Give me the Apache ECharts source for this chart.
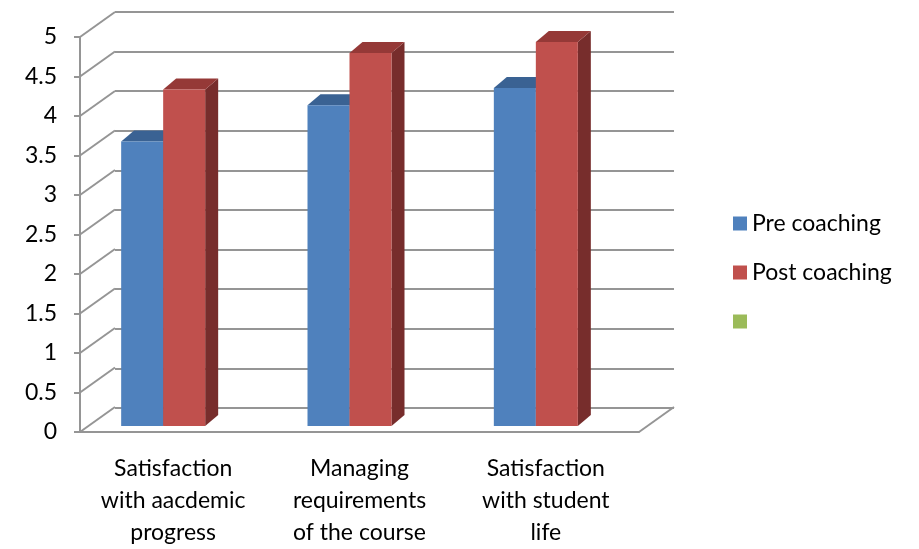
<!DOCTYPE html>
<html>
<head>
<meta charset="utf-8">
<script src="https://cdn.jsdelivr.net/npm/echarts@6/dist/echarts.min.js"></script>
<style>
  html, body { margin: 0; padding: 0; background: #fff; }
  #chart { width: 919px; height: 549px; }
</style>
</head>
<body>
<div id="chart"></div>
<script>
const categories = [
  'Satisfaction\nwith aacdemic\nprogress',
  'Managing\nrequirements\nof the course',
  'Satisfaction\nwith student\nlife'
];
const preCoaching = [3.6, 4.06, 4.28];
const postCoaching = [4.26, 4.72, 4.86];
const yTicks = [0, 0.5, 1, 1.5, 2, 2.5, 3, 3.5, 4, 4.5, 5];

const FONT = 'Lato';
const LINE = '#959595';
const WALL = [35, -25];   // back wall offset
const DEPTH = [13, -11];  // bar depth
const BAR_W = 42;
const PAIR_SHIFT = -10;
const BASE_LIFT = -6;

function barRenderer(isLeft, face, top, side) {
  return function (params, api) {
    const b = api.coord([api.value(0), 0]);
    const t = api.coord([api.value(0), api.value(1)]);
    const x0 = b[0] + PAIR_SHIFT - (isLeft ? BAR_W : 0);
    const x1 = x0 + BAR_W;
    const yb = b[1] + BASE_LIFT;
    const yt = t[1] + BASE_LIFT;
    const dx = DEPTH[0], dy = DEPTH[1];
    return {
      type: 'group',
      children: [
        { type: 'polygon', shape: { points: [[x1, yt], [x1 + dx, yt + dy], [x1 + dx, yb + dy], [x1, yb]] }, style: { fill: side } },
        { type: 'polygon', shape: { points: [[x0, yt], [x1, yt], [x1 + dx, yt + dy], [x0 + dx, yt + dy]] }, style: { fill: top } },
        { type: 'rect', shape: { x: x0, y: yt, width: BAR_W, height: yb - yt }, style: { fill: face } }
      ]
    };
  };
}

function wallRenderer(params, api) {
  const cs = params.coordSys;
  const y = api.coord([0, api.value(1)])[1];
  const lines = [
    { type: 'line', shape: { x1: cs.x, y1: y, x2: cs.x + WALL[0], y2: y + WALL[1] }, style: { stroke: LINE, lineWidth: 2 } }
  ];
  if (api.value(1) === 0) {
    const xr = cs.x + cs.width;
    lines.push({ type: 'line', shape: { x1: xr, y1: y, x2: xr + WALL[0], y2: y + WALL[1] }, style: { stroke: LINE, lineWidth: 2 } });
  }
  return { type: 'group', children: lines };
}

const chart = echarts.init(document.getElementById('chart'));
const option = {
  backgroundColor: '#ffffff',
  animation: false,
  textStyle: { fontFamily: FONT },
  legend: {
    data: ['Pre coaching', 'Post coaching', ' '],
    orient: 'vertical', left: 728, top: 207,
    icon: 'rect', itemWidth: 14, itemHeight: 14, itemGap: 26,
    selectedMode: false,
    textStyle: { fontFamily: FONT, fontSize: 23, color: '#000', lineHeight: 22 }
  },
  grid: [
    { left: 80, right: 280, top: 37, bottom: 116 },
    { left: 115, right: 245, top: 12, bottom: 141 }
  ],
  xAxis: [
    {
      type: 'category', gridIndex: 0, data: categories,
      axisLine: { lineStyle: { color: LINE, width: 2 } },
      axisTick: { length: 7, lineStyle: { color: LINE, width: 2 } },
      axisLabel: { interval: 0, margin: 21, fontFamily: FONT, fontSize: 23, lineHeight: 32, color: '#000' }
    },
    { type: 'category', gridIndex: 1, data: categories, show: false }
  ],
  yAxis: [
    {
      type: 'value', gridIndex: 0, min: 0, max: 5, interval: 0.5,
      axisLine: { show: true, lineStyle: { color: LINE, width: 2 } },
      axisTick: { show: true, length: 6, lineStyle: { color: LINE, width: 2 } },
      axisLabel: { margin: 23, fontFamily: FONT, fontSize: 23, color: '#000' },
      splitLine: { show: false }
    },
    {
      type: 'value', gridIndex: 1, min: 0, max: 5, interval: 0.5,
      axisLine: { show: false }, axisTick: { show: false }, axisLabel: { show: false },
      splitLine: { show: true, lineStyle: { color: LINE, width: 2 } }
    }
  ],
  series: [
    {
      name: 'wall', type: 'custom', xAxisIndex: 0, yAxisIndex: 0, silent: true,
      renderItem: wallRenderer,
      data: yTicks.map(v => [0, v])
    },
    {
      name: 'Pre coaching', type: 'custom', xAxisIndex: 0, yAxisIndex: 0,
      itemStyle: { color: '#4F81BD' },
      renderItem: barRenderer(true, '#4F81BD', '#3A6293', '#2F5484'),
      data: preCoaching.map((v, i) => [i, v])
    },
    {
      name: 'Post coaching', type: 'custom', xAxisIndex: 0, yAxisIndex: 0,
      itemStyle: { color: '#C0504D' },
      renderItem: barRenderer(false, '#C0504D', '#953937', '#772D2C'),
      data: postCoaching.map((v, i) => [i, v])
    },
    {
      name: ' ', type: 'custom', xAxisIndex: 0, yAxisIndex: 0,
      itemStyle: { color: '#9BBB59' },
      renderItem: () => null,
      data: []
    }
  ]
};
chart.setOption(option);
</script>
</body>
</html>
